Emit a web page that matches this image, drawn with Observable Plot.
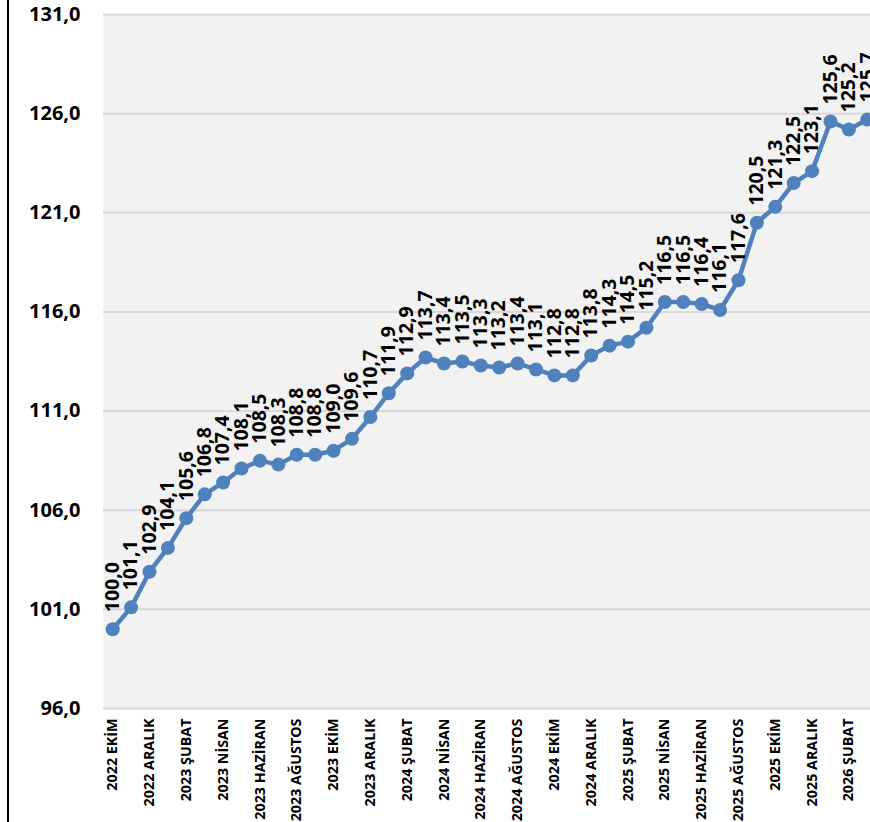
<!DOCTYPE html>
<html><head><meta charset="utf-8">
<script src="https://cdn.jsdelivr.net/npm/d3@7"></script>
<script src="https://cdn.jsdelivr.net/npm/@observablehq/plot@0.6"></script>
<style>
html,body{margin:0;padding:0;background:#fff;overflow:hidden;width:870px;height:822px}
#frame{position:absolute;left:7px;top:0;width:2px;height:822px;background:#000}
#chart{position:absolute;left:0;top:0;width:880px}
#chart svg{max-width:none !important}
</style></head><body>
<div id="chart"></div><div id="frame"></div>
<script>
const periods = [
  "2022 EKİM","2022 KASIM","2022 ARALIK",
  "2023 OCAK","2023 ŞUBAT","2023 MART","2023 NİSAN","2023 MAYIS","2023 HAZİRAN","2023 TEMMUZ","2023 AĞUSTOS","2023 EYLÜL","2023 EKİM","2023 KASIM","2023 ARALIK",
  "2024 OCAK","2024 ŞUBAT","2024 MART","2024 NİSAN","2024 MAYIS","2024 HAZİRAN","2024 TEMMUZ","2024 AĞUSTOS","2024 EYLÜL","2024 EKİM","2024 KASIM","2024 ARALIK",
  "2025 OCAK","2025 ŞUBAT","2025 MART","2025 NİSAN","2025 MAYIS","2025 HAZİRAN","2025 TEMMUZ","2025 AĞUSTOS","2025 EYLÜL","2025 EKİM","2025 KASIM","2025 ARALIK",
  "2026 OCAK","2026 ŞUBAT","2026 MART"
];
const values = [
  100.0, 101.1, 102.9,
  104.1, 105.6, 106.8, 107.4, 108.1, 108.5, 108.3, 108.8, 108.8, 109.0, 109.6, 110.7,
  111.9, 112.9, 113.7, 113.4, 113.5, 113.3, 113.2, 113.4, 113.1, 112.8, 112.8, 113.8,
  114.3, 114.5, 115.2, 116.5, 116.5, 116.4, 116.1, 117.6, 120.5, 121.3, 122.5, 123.1,
  125.6, 125.2, 125.7
];
const yTicks = [96, 101, 106, 111, 116, 121, 126, 131];
const xTickIdx = d3.range(0, periods.length - 1, 2);

const data = periods.map((p, i) => ({i, p, v: values[i]}));
const fmt = v => d3.format(".1f")(v).replace(".", ",");
const blue = "#4f81bd";

const chart = Plot.plot({
  width: 880, height: 822,
  marginTop: 14, marginBottom: 114, marginLeft: 103, marginRight: 4,
  style: {fontFamily: "Open Sans", background: "transparent", color: "#000", maxWidth: "none"},
  x: {domain: [-0.5, periods.length - 0.5], axis: null, label: null},
  y: {domain: [96, 131], axis: null, label: null},
  marks: [
    Plot.frame({fill: "#f2f2f2", stroke: null}),
    Plot.ruleY(yTicks, {stroke: "#d9d9d9", strokeWidth: 2}),
    Plot.axisY({ticks: yTicks, tickSize: 0, tickPadding: 23, tickFormat: fmt, fontSize: 20, fontWeight: "bold", label: null}),
    Plot.axisX({ticks: xTickIdx, tickFormat: i => periods[i], tickRotate: -90, tickSize: 0, tickPadding: 10, fontSize: 14.3, fontWeight: "bold", label: null}),
    Plot.line(data, {x: "i", y: "v", stroke: blue, strokeWidth: 4.5}),
    Plot.dot(data, {x: "i", y: "v", r: 7, fill: blue}),
    Plot.text(data, {x: "i", y: "v", text: d => fmt(d.v), rotate: -90, textAnchor: "start", dy: -17, fontSize: 19.5, fontWeight: "bold", fill: "#000"})
  ]
});
document.getElementById("chart").appendChild(chart);
</script>
</body></html>
